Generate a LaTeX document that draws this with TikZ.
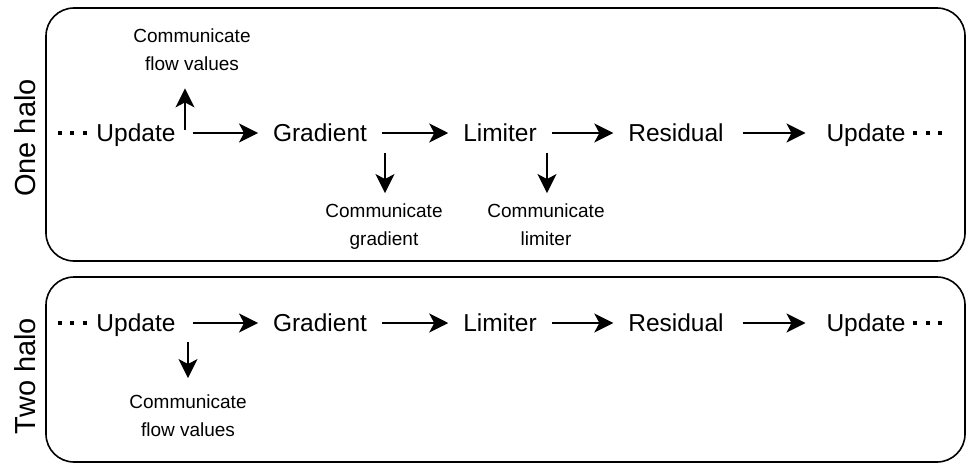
\documentclass[tikz,border=0pt]{standalone}
\usepackage{fontspec}
\setmainfont{Liberation Sans}
\usetikzlibrary{arrows.meta}

\tikzset{
  stage/.style={font=\fontsize{24.5}{29}\selectfont, inner sep=0pt,
    text height=17.5pt, text depth=0pt, outer xsep=15pt},
  comm/.style={font=\fontsize{19}{28.5}\selectfont, align=center,
    inner sep=0pt, anchor=base},
  halo/.style={font=\fontsize{29}{34}\selectfont, rotate=90, inner sep=0pt},
  flow/.style={line width=1.8pt, -{Stealth[length=19pt,width=19pt,inset=5pt]}},
  dots/.style={line width=4pt, dash pattern=on 4pt off 8.5pt},
  halobox/.style={line width=1.6pt, rounded corners=28pt},
}

\begin{document}
\begin{tikzpicture}[x=1pt,y=-1pt]
  \useasboundingbox (0,0) rectangle (966,463);

  % one halo
  \draw[halobox] (46,8) rectangle (965,261);
  \node[halo] (one) at (25,138) {One halo};
  \node[stage] (upd1) at (136,133) {Update};
  \node[stage] (grad1) at (320,133) {Gradient};
  \node[stage] (lim1) at (500,133) {Limiter};
  \node[stage] (res1) at (676,133) {Residual};
  \node[stage] (upd2) at (866,133) {Update};
  \node[comm] (flow1) at (192,70.5) {Communicate\\flow values};
  \node[comm] (gradc) at (384,245.5) {Communicate\\gradient};
  \node[comm] (limc) at (546,245.5) {Communicate\\limiter};

  \draw[dots] ([xshift=5.5pt]upd1.west) -- ++(-29,0);
  \draw[flow, shorten <=2pt] (upd1) -- (grad1);
  \draw[flow] (grad1) -- (lim1);
  \draw[flow] (lim1) -- (res1);
  \draw[flow, shorten <=4pt, shorten >=6pt] (res1) -- (upd2);
  \draw[dots] ([xshift=-7.5pt]upd2.east) -- ++(29,0);

  \draw[flow] ([xshift=-7pt,yshift=12pt]flow1.south |- upd1.south) -- ([xshift=-7pt,yshift=-17.5pt]flow1.south);
  \draw[flow] ([xshift=1pt,yshift=-11pt]gradc.north |- grad1.south) -- ([xshift=1pt,yshift=10pt]gradc.north);
  \draw[flow] ([xshift=1pt,yshift=-11pt]limc.north |- lim1.south) -- ([xshift=1pt,yshift=10pt]limc.north);

  % two halo
  \draw[halobox] (46,277) rectangle (965,462);
  \node[halo] (two) at (25,376) {Two halo};
  \node[stage] (upd3) at (136,323) {Update};
  \node[stage] (grad2) at (320,323) {Gradient};
  \node[stage] (lim2) at (500,323) {Limiter};
  \node[stage] (res2) at (676,323) {Residual};
  \node[stage] (upd4) at (866,323) {Update};
  \node[comm] (flow2) at (188,436.5) {Communicate\\flow values};

  \draw[dots] ([xshift=5.5pt]upd3.west) -- ++(-29,0);
  \draw[flow, shorten <=2pt] (upd3) -- (grad2);
  \draw[flow] (grad2) -- (lim2);
  \draw[flow] (lim2) -- (res2);
  \draw[flow, shorten <=4pt, shorten >=6pt] (res2) -- (upd4);
  \draw[dots] ([xshift=-7.5pt]upd4.east) -- ++(29,0);

  \draw[flow] ([yshift=-10pt]flow2.north |- upd3.south) -- ([yshift=16pt]flow2.north);
\end{tikzpicture}
\end{document}
